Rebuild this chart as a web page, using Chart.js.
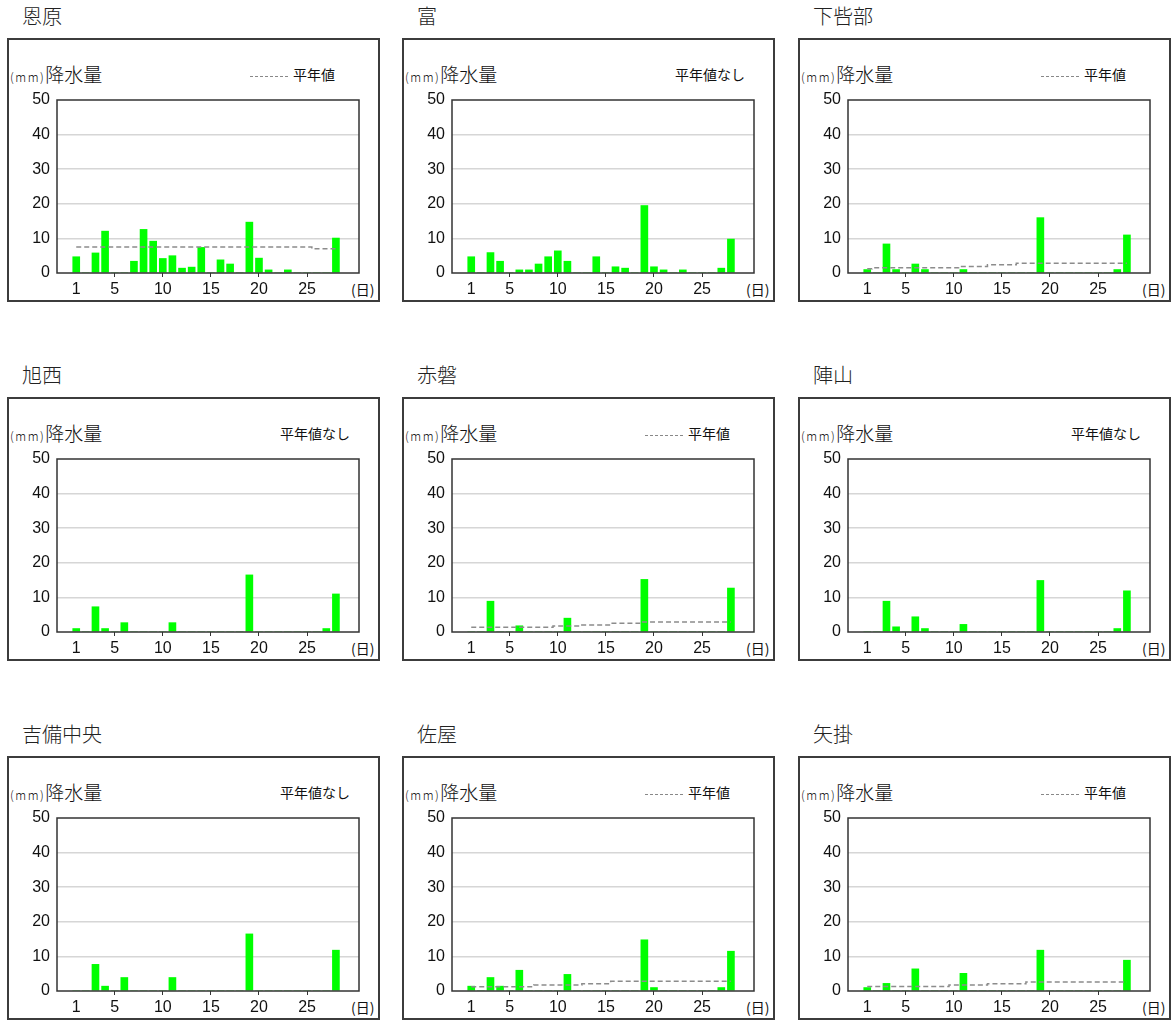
<!DOCTYPE html>
<html>
<head>
<meta charset="utf-8">
<title>降水量</title>
<script src="https://cdn.jsdelivr.net/npm/chart.js"></script>
<style>
  body { margin: 0; width: 1175px; height: 1020px; overflow: hidden; background: #fff;
         font-family: "Noto Sans CJK JP", sans-serif; color: #111; position: relative; }
  .title { position: absolute; font-size: 20px; font-weight: 300; line-height: 24px; white-space: nowrap; color: #222; }
  .box { position: absolute; width: 369px; height: 260px; border: 2px solid #3c3c3c; }
  .box canvas { position: absolute; left: 0; top: 0; }
  .ylabel { position: absolute; left: 1px; top: 22px; line-height: 24px; white-space: nowrap; color: #111; font-weight: 300; }
  .ylabel .u { font-size: 12px; letter-spacing: 1.5px; }
  .ylabel .t { font-size: 19px; }
  .legend { position: absolute; top: 25px; font-size: 14px; line-height: 18px; white-space: nowrap; color: #111; }
  .dash { display: inline-block; width: 38px; border-top: 1px dashed #888; vertical-align: middle; margin-right: 5px; }
  .unit { position: absolute; left: 342px; top: 240px; font-size: 14px; line-height: 18px; color: #111; }
</style>
</head>
<body>
<script>
  // 2月の日別降水量 (mm)
  const days = [1, 2, 3, 4, 5, 6, 7, 8, 9, 10, 11, 12, 13, 14, 15, 16, 17, 18, 19, 20, 21, 22, 23, 24, 25, 26, 27, 28];
  const tickDays = [1, 5, 10, 15, 20, 25];
  const yTicks = [0, 10, 20, 30, 40, 50];

  const stations = ["恩原", "富", "下呰部", "旭西", "赤磐", "陣山", "吉備中央", "佐屋", "矢掛"];

  const rainOnbara   = [4.7, 0, 5.8, 12.1, 0, 0, 3.4, 12.6, 9.2, 4.2, 5.0, 1.4, 1.7, 7.4, 0, 3.8, 2.6, 0, 14.7, 4.3, 0.9, 0, 0.9, 0, 0, 0, 0, 10.1];
  const rainTomi     = [4.7, 0, 5.9, 3.4, 0, 0.9, 0.9, 2.6, 4.7, 6.4, 3.4, 0, 0, 4.7, 0, 1.8, 1.4, 0, 19.5, 1.8, 0.9, 0, 0.9, 0, 0, 0, 1.4, 9.8];
  const rainShimo    = [1.0, 0, 8.4, 1.0, 0, 2.6, 1.0, 0, 0, 0, 1.0, 0, 0, 0, 0, 0, 0, 0, 16.0, 0, 0, 0, 0, 0, 0, 0, 1.0, 11.0];
  const rainAsahi    = [1.0, 0, 7.3, 1.0, 0, 2.7, 0, 0, 0, 0, 2.7, 0, 0, 0, 0, 0, 0, 0, 16.5, 0, 0, 0, 0, 0, 0, 0, 1.0, 11.0];
  const rainAkaiwa   = [0, 0, 8.9, 0, 0, 1.8, 0, 0, 0, 0, 4.0, 0, 0, 0, 0, 0, 0, 0, 15.2, 0, 0, 0, 0, 0, 0, 0, 0, 12.7];
  const rainJinyama  = [0, 0, 8.9, 1.5, 0, 4.4, 1.0, 0, 0, 0, 2.2, 0, 0, 0, 0, 0, 0, 0, 14.9, 0, 0, 0, 0, 0, 0, 0, 1.0, 11.9];
  const rainKibi     = [0, 0, 7.7, 1.4, 0, 3.9, 0, 0, 0, 0, 3.9, 0, 0, 0, 0, 0, 0, 0, 16.5, 0, 0, 0, 0, 0, 0, 0, 0, 11.8];
  const rainSaya     = [1.4, 0, 3.9, 1.4, 0, 6.0, 0, 0, 0, 0, 4.8, 0, 0, 0, 0, 0, 0, 0, 14.8, 1.0, 0, 0, 0, 0, 0, 0, 1.0, 11.5];
  const rainYakage   = [1.0, 0, 2.2, 0, 0, 6.4, 0, 0, 0, 0, 5.1, 0, 0, 0, 0, 0, 0, 0, 11.8, 0, 0, 0, 0, 0, 0, 0, 0, 8.9];

  // 平年値 (日別)
  const normalOnbara = [7.5, 7.5, 7.5, 7.5, 7.5, 7.5, 7.5, 7.5, 7.5, 7.5, 7.5, 7.5, 7.5, 7.5, 7.5, 7.5, 7.5, 7.5, 7.5, 7.5, 7.5, 7.5, 7.5, 7.5, 7.5, 7.0, 7.0, 7.0];
  const normalShimo  = [1.2, 1.5, 1.5, 1.5, 1.5, 1.5, 1.5, 1.5, 1.5, 1.5, 1.9, 1.9, 1.9, 2.4, 2.4, 2.4, 2.8, 2.8, 2.8, 2.8, 2.8, 2.8, 2.8, 2.8, 2.8, 2.8, 2.8, 2.8];
  const normalAkaiwa = [1.4, 1.4, 1.4, 1.4, 1.4, 1.4, 1.4, 1.4, 1.4, 1.7, 1.7, 1.7, 2.0, 2.0, 2.0, 2.5, 2.5, 2.5, 2.9, 2.9, 2.9, 2.9, 2.9, 2.9, 2.9, 2.9, 2.9, 2.9];
  const normalSaya   = [1.2, 1.2, 1.2, 1.2, 1.2, 1.2, 1.2, 1.7, 1.7, 1.7, 1.7, 1.7, 2.1, 2.1, 2.1, 2.8, 2.8, 2.8, 2.8, 2.8, 2.8, 2.8, 2.8, 2.8, 2.8, 2.8, 2.8, 2.8];
  const normalYakage = [1.3, 1.3, 1.3, 1.3, 1.3, 1.3, 1.3, 1.3, 1.3, 1.7, 1.7, 1.7, 1.7, 2.1, 2.1, 2.1, 2.1, 2.6, 2.6, 2.6, 2.6, 2.6, 2.6, 2.6, 2.6, 2.6, 2.6, 2.6];

  const rains = [rainOnbara, rainTomi, rainShimo, rainAsahi, rainAkaiwa, rainJinyama, rainKibi, rainSaya, rainYakage];
  const normals = [normalOnbara, null, normalShimo, null, normalAkaiwa, null, null, normalSaya, normalYakage];

  const boxLefts = [7, 402, 798];
  const boxTops = [38, 397, 756];

  Chart.defaults.font.family = '"Liberation Sans", Arial, sans-serif';
  Chart.defaults.color = "#111";

  // プロット枠
  const framePlugin = {
    id: "frame",
    afterDatasetsDraw(chart) {
      const a = chart.chartArea, c = chart.ctx;
      c.save();
      c.strokeStyle = "#333";
      c.lineWidth = 1.5;
      c.strokeRect(a.left, a.top, a.right - a.left, a.bottom - a.top);
      c.restore();
    }
  };

  stations.forEach((name, i) => {
    const left = boxLefts[i % 3], top = boxTops[Math.floor(i / 3)];

    const title = document.createElement("div");
    title.className = "title";
    title.style.left = (left + 15) + "px";
    title.style.top = (top - 34) + "px";
    title.textContent = name;
    document.body.appendChild(title);

    const box = document.createElement("div");
    box.className = "box";
    box.style.left = left + "px";
    box.style.top = top + "px";
    const hasNormal = normals[i] !== null;
    box.innerHTML =
      '<div class="ylabel"><span class="u">(mm)</span><span class="t">降水量</span></div>' +
      (hasNormal
        ? '<div class="legend" style="left:241px"><span class="dash"></span>平年値</div>'
        : '<div class="legend" style="left:271px">平年値なし</div>') +
      '<div class="unit">(日)</div>';
    const canvas = document.createElement("canvas");
    canvas.width = 369;
    canvas.height = 260;
    box.appendChild(canvas);
    document.body.appendChild(box);

    const datasets = [];
    if (hasNormal) {
      datasets.push({
        type: "line",
        order: 0,
        data: days.map((d, k) => ({ x: d, y: normals[i][k] })),
        stepped: "middle",
        borderColor: "#8c8c8c",
        borderWidth: 1.5,
        borderDash: [5, 3],
        pointRadius: 0,
        fill: false
      });
    }
    datasets.push({
      type: "bar",
      order: 1,
      data: days.map((d, k) => ({ x: d, y: rains[i][k] })),
      backgroundColor: "#00ff00",
      borderWidth: 0,
      barThickness: 7
    });

    new Chart(canvas, {
      data: { datasets: datasets },
      options: {
        responsive: false,
        animation: false,
        layout: { padding: { top: 60, right: 19, left: 0, bottom: 0 } },
        plugins: { legend: { display: false }, tooltip: { enabled: false } },
        scales: {
          x: {
            type: "linear",
            offset: false,
            min: -1,
            max: 30.4,
            afterBuildTicks: (s) => { s.ticks = tickDays.map((v) => ({ value: v })); },
            afterFit: (s) => { s.height = 27; },
            grid: {
              offset: false,
              drawOnChartArea: false,
              drawTicks: true,
              tickLength: 4,
              tickColor: (c) => (c.tick && c.tick.value === 1 ? "rgba(0,0,0,0)" : "#333")
            },
            border: { display: false },
            ticks: { padding: 3, font: { size: 16 }, autoSkip: false, maxRotation: 0 }
          },
          y: {
            min: 0,
            max: 50,
            afterBuildTicks: (s) => { s.ticks = yTicks.map((v) => ({ value: v })); },
            afterFit: (s) => { s.width = 48; },
            grid: {
              drawTicks: false,
              lineWidth: 1.5,
              color: (c) => (c.tick && (c.tick.value === 0 || c.tick.value === 50) ? "rgba(0,0,0,0)" : "#d6d6d6")
            },
            border: { display: false },
            ticks: { padding: 7, font: { size: 16 } }
          }
        }
      },
      plugins: [framePlugin]
    });
  });
</script>
</body>
</html>
